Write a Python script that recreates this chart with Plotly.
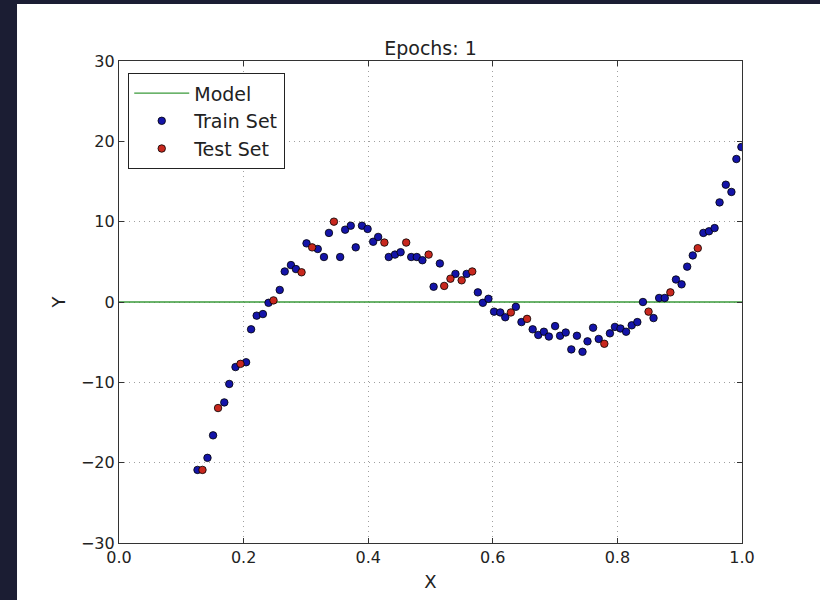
import plotly.graph_objects as go

# ---- data ----
train_x = [0.126, 0.142, 0.151, 0.169, 0.177, 0.187, 0.204, 0.212, 0.221, 0.231, 0.240,
           0.258, 0.266, 0.276, 0.284, 0.301, 0.319, 0.329, 0.337, 0.355, 0.363, 0.372,
           0.380, 0.390, 0.399, 0.408, 0.416, 0.433, 0.443, 0.452, 0.469, 0.478, 0.487,
           0.505, 0.515, 0.540, 0.558, 0.576, 0.584, 0.593, 0.602, 0.612, 0.620, 0.637,
           0.646, 0.664, 0.673, 0.682, 0.690, 0.700, 0.708, 0.717, 0.726, 0.735, 0.744,
           0.752, 0.761, 0.770, 0.788, 0.796, 0.805, 0.814, 0.823, 0.832, 0.841, 0.858,
           0.867, 0.876, 0.894, 0.903, 0.912, 0.921, 0.938, 0.947, 0.956, 0.964, 0.974,
           0.983, 0.991, 0.999]
train_y = [-20.9, -19.4, -16.6, -12.5, -10.2, -8.1, -7.5, -3.4, -1.7, -1.5, -0.1,
           1.5, 3.8, 4.6, 4.1, 7.3, 6.6, 5.6, 8.6, 5.6, 9.0, 9.5,
           6.8, 9.5, 9.1, 7.5, 8.1, 5.6, 5.9, 6.2, 5.6, 5.6, 5.2,
           1.9, 4.8, 3.5, 3.5, 1.2, -0.1, 0.4, -1.2, -1.3, -1.9, -0.6,
           -2.5, -3.4, -4.1, -3.7, -4.3, -3.0, -4.2, -3.8, -5.9, -4.2, -6.2,
           -4.9, -3.2, -4.6, -3.9, -3.1, -3.3, -3.7, -2.9, -2.5, 0.0, -2.0,
           0.5, 0.5, 2.8, 2.2, 4.4, 5.8, 8.6, 8.8, 9.2, 12.4, 14.6,
           13.7, 17.8, 19.3]

test_x = [0.134, 0.159, 0.195, 0.248, 0.293, 0.310, 0.345, 0.426, 0.461, 0.497,
          0.522, 0.532, 0.550, 0.567, 0.629, 0.655, 0.779, 0.850, 0.885, 0.929]
test_y = [-20.9, -13.2, -7.7, 0.2, 3.7, 6.8, 10.0, 7.4, 7.4, 5.9,
          2.0, 2.9, 2.7, 3.8, -1.3, -2.1, -5.2, -1.2, 1.2, 6.7]

model_x = [0.0, 1.0]
model_y = [0.0, 0.0]

x_ticks = [0.0, 0.2, 0.4, 0.6, 0.8, 1.0]
y_ticks = [-30, -20, -10, 0, 10, 20, 30]

FONT = "DejaVu Sans"
TXT = "#222222"

fig = go.Figure()
fig.add_trace(go.Scatter(x=model_x, y=model_y, mode="lines", name="Model",
                         line=dict(color="#3a9a3a", width=1.3)))
fig.add_trace(go.Scatter(x=train_x, y=train_y, mode="markers", name="Train Set",
                         marker=dict(color="#1414a8", size=7.5,
                                     line=dict(color="#000000", width=0.8))))
fig.add_trace(go.Scatter(x=test_x, y=test_y, mode="markers", name="Test Set",
                         marker=dict(color="#c8281e", size=7.5,
                                     line=dict(color="#000000", width=0.8))))

axis_common = dict(
    showline=True, linecolor="#333333", linewidth=1.2, mirror="allticks",
    ticks="inside", ticklen=5, tickcolor="#333333", tickwidth=1,
    showgrid=True, gridcolor="#a0a0a0", gridwidth=1, griddash="1px,4px",
    zeroline=False, automargin=False,
    tickfont=dict(family=FONT, size=16, color=TXT),
)

fig.update_xaxes(range=[0, 1], tickvals=x_ticks, tickformat=".1f",
                 title=dict(text="X", font=dict(family=FONT, size=18, color=TXT), standoff=9),
                 **axis_common)
fig.update_yaxes(range=[-30, 30], tickvals=y_ticks,
                 title=dict(text="Y", font=dict(family=FONT, size=18, color=TXT), standoff=10),
                 **axis_common)

# white figure area inside the dark window frame
fig.add_shape(type="rect", xref="paper", yref="paper",
              x0=-0.1637, x1=1.13, y0=-0.13, y1=1.118,
              fillcolor="white", line=dict(width=0), layer="below")

fig.update_layout(
    width=820, height=600,
    margin=dict(l=119, r=78, t=61, b=57),
    paper_bgcolor="#1b1d33", plot_bgcolor="white",
    title=dict(text="Epochs: 1", x=0.5, xanchor="center", y=0.92, yanchor="middle",
               yref="container", xref="paper",
               font=dict(family=FONT, size=19, color=TXT)),
    legend=dict(x=0.0145, y=0.975, xanchor="left", yanchor="top",
                bgcolor="white", bordercolor="#222222", borderwidth=1.2,
                font=dict(family=FONT, size=19, color=TXT),
                itemwidth=55, tracegroupgap=0),
    showlegend=True,
)

fig.write_html("out.html", config={"displayModeBar": False},
               post_script="document.body.style.margin='0';document.body.style.padding='0';")
